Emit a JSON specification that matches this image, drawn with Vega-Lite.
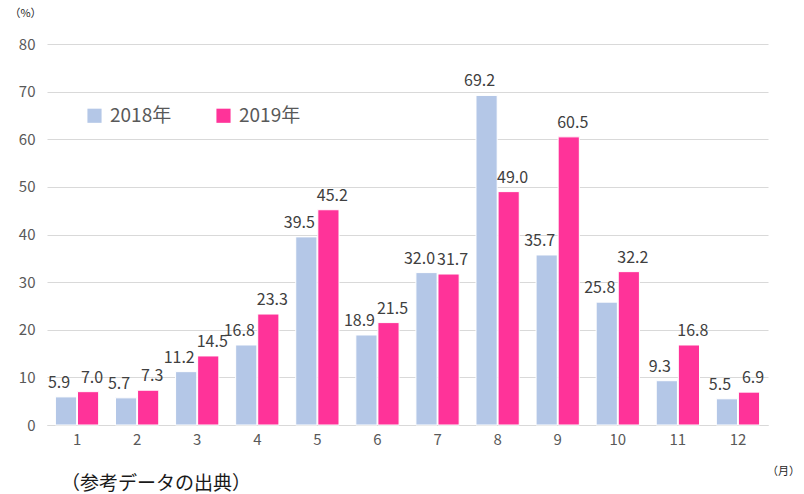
{
  "$schema": "https://vega.github.io/schema/vega-lite/v6.json",
  "width": 721,
  "height": 381,
  "autosize": {"type": "none"},
  "padding": {"left": 47, "top": 44, "right": 36, "bottom": 69},
  "background": "white",
  "config": {
    "view": {"stroke": null},
    "font": "Noto Sans CJK JP"
  },
  "title": {
    "text": "（参考データの出典）",
    "orient": "bottom",
    "anchor": "start",
    "frame": "group",
    "dx": 14,
    "offset": -1,
    "fontSize": 19,
    "fontWeight": "normal",
    "color": "#1a1a1a",
    "font": "Noto Sans CJK JP"
  },
  "data": {
    "values": [
      {"month": 1, "year": "2018年", "value": 5.9},
      {"month": 1, "year": "2019年", "value": 7.0},
      {"month": 2, "year": "2018年", "value": 5.7},
      {"month": 2, "year": "2019年", "value": 7.3},
      {"month": 3, "year": "2018年", "value": 11.2},
      {"month": 3, "year": "2019年", "value": 14.5},
      {"month": 4, "year": "2018年", "value": 16.8},
      {"month": 4, "year": "2019年", "value": 23.3},
      {"month": 5, "year": "2018年", "value": 39.5},
      {"month": 5, "year": "2019年", "value": 45.2},
      {"month": 6, "year": "2018年", "value": 18.9},
      {"month": 6, "year": "2019年", "value": 21.5},
      {"month": 7, "year": "2018年", "value": 32.0},
      {"month": 7, "year": "2019年", "value": 31.7},
      {"month": 8, "year": "2018年", "value": 69.2},
      {"month": 8, "year": "2019年", "value": 49.0},
      {"month": 9, "year": "2018年", "value": 35.7},
      {"month": 9, "year": "2019年", "value": 60.5},
      {"month": 10, "year": "2018年", "value": 25.8},
      {"month": 10, "year": "2019年", "value": 32.2},
      {"month": 11, "year": "2018年", "value": 9.3},
      {"month": 11, "year": "2019年", "value": 16.8},
      {"month": 12, "year": "2018年", "value": 5.5},
      {"month": 12, "year": "2019年", "value": 6.9}
    ]
  },
  "encoding": {
    "x": {
      "field": "month",
      "type": "ordinal",
      "scale": {"paddingInner": 0.28, "paddingOuter": 0.14},
      "axis": {
        "title": "（月）",
        "titleAngle": 0,
        "titleX": 736,
        "titleY": 40,
        "titleAlign": "center",
        "titleFontSize": 11,
        "titleFontWeight": "normal",
        "titleColor": "#262626",
        "labelAngle": 0,
        "labelFontSize": 15,
        "labelColor": "#595959",
        "labelPadding": 7,
        "ticks": false,
        "domainColor": "#d9d9d9"
      }
    },
    "y": {
      "field": "value",
      "type": "quantitative",
      "scale": {"domain": [0, 80]},
      "axis": {
        "title": "（%）",
        "titleAngle": 0,
        "titleX": -22,
        "titleY": -26,
        "titleAlign": "center",
        "titleFontSize": 11,
        "titleFontWeight": "normal",
        "titleColor": "#262626",
        "values": [0, 10, 20, 30, 40, 50, 60, 70, 80],
        "labelFontSize": 15,
        "labelColor": "#595959",
        "labelPadding": 12,
        "ticks": false,
        "domain": false,
        "gridColor": "#d9d9d9"
      }
    }
  },
  "layer": [
    {
      "mark": {"type": "bar", "stroke": "white", "strokeWidth": 1},
      "encoding": {
        "xOffset": {"field": "year", "type": "nominal", "scale": {"paddingInner": 0.04}},
        "color": {
          "field": "year",
          "type": "nominal",
          "scale": {"domain": ["2018年", "2019年"], "range": ["#b4c7e7", "#ff3399"]},
          "legend": {
            "title": null,
            "orient": "none",
            "legendX": 38,
            "legendY": 62,
            "direction": "horizontal",
            "columns": 2,
            "columnPadding": 42,
            "symbolType": "square",
            "symbolSize": 200,
            "symbolStrokeWidth": 0,
            "labelFontSize": 19,
            "labelColor": "#595959",
            "labelOffset": 6
          }
        }
      }
    },
    {
      "transform": [{"filter": "datum.year === '2018年'"}],
      "mark": {"type": "text", "baseline": "bottom", "dy": -6, "dx": -7, "fontSize": 16, "color": "#404040"},
      "encoding": {
        "xOffset": {"field": "year", "type": "nominal", "scale": {"domain": ["2018年", "2019年"], "paddingInner": 0.04}},
        "text": {"field": "value", "type": "quantitative", "format": ".1f"}
      }
    },
    {
      "transform": [{"filter": "datum.year === '2019年'"}],
      "mark": {"type": "text", "baseline": "bottom", "dy": -6, "dx": 4, "fontSize": 16, "color": "#404040"},
      "encoding": {
        "xOffset": {"field": "year", "type": "nominal", "scale": {"domain": ["2018年", "2019年"], "paddingInner": 0.04}},
        "text": {"field": "value", "type": "quantitative", "format": ".1f"}
      }
    }
  ]
}
